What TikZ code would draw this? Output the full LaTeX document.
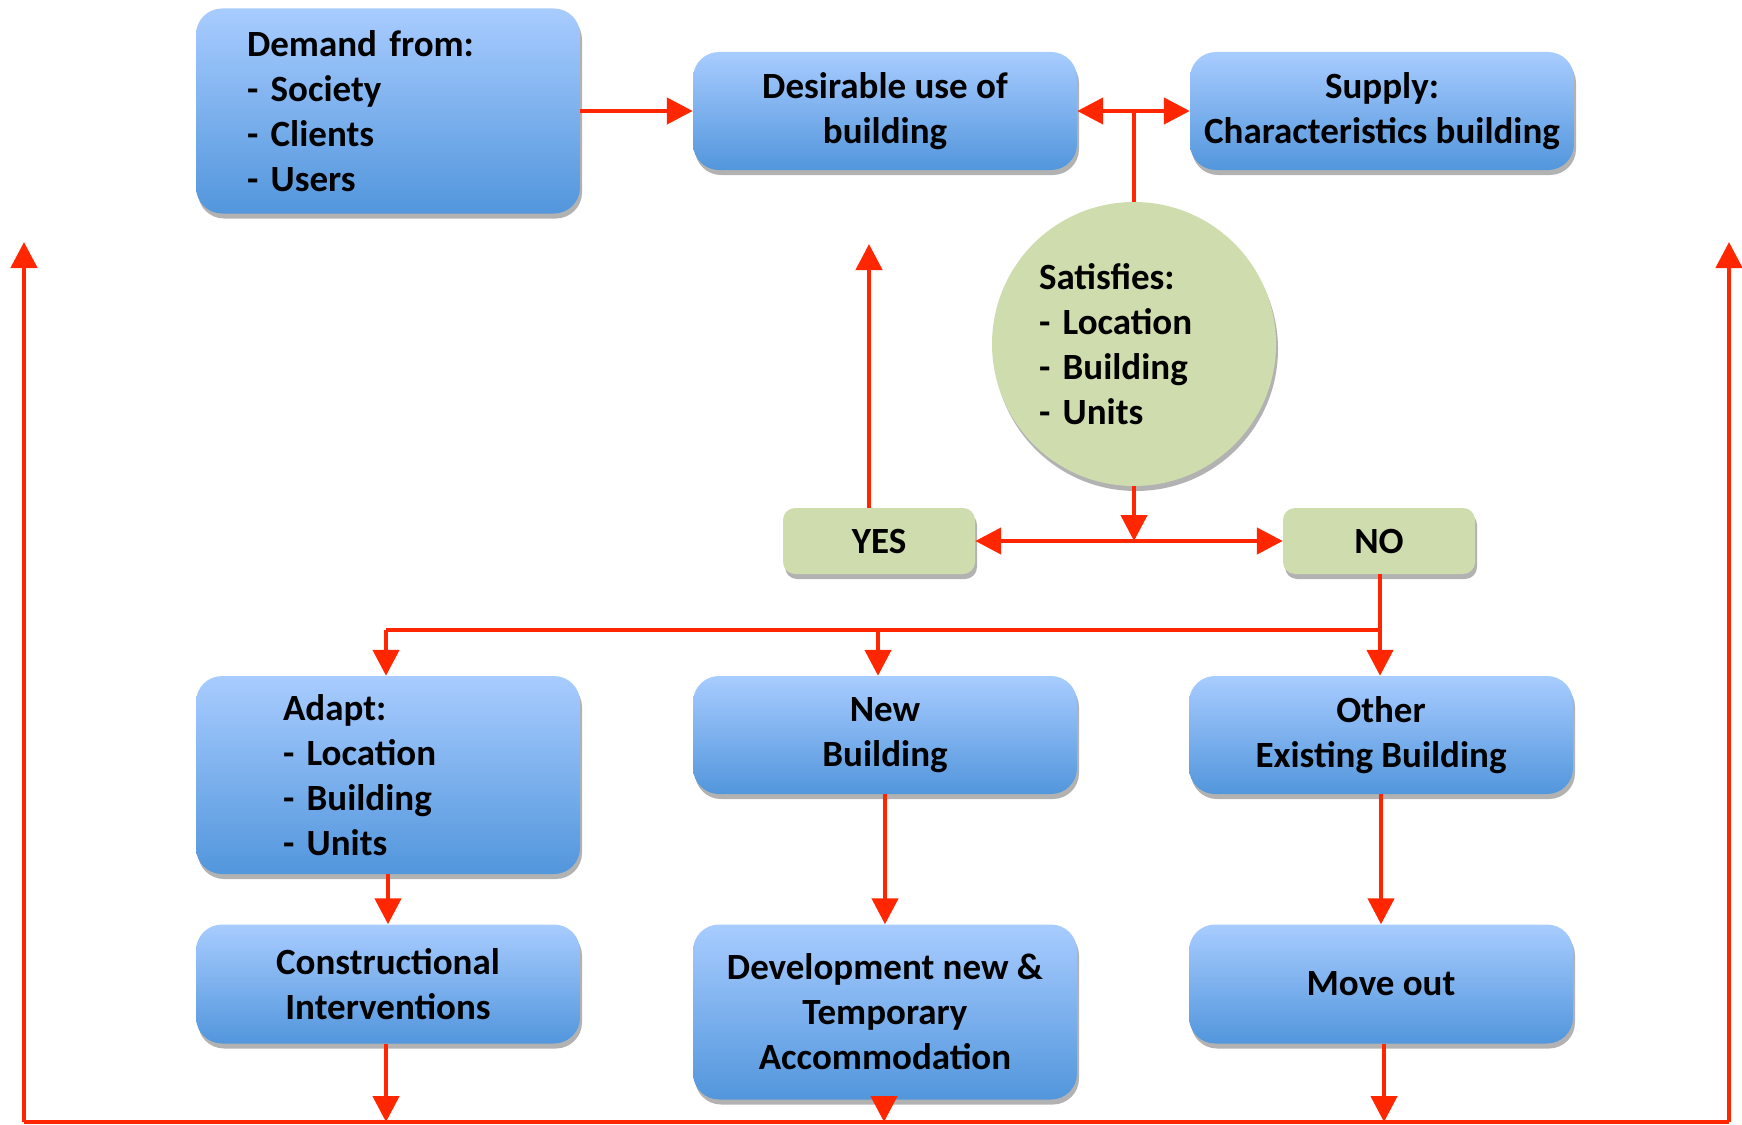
\documentclass[tikz,border=0pt]{standalone}
\usepackage{fontspec}
\setmainfont{Carlito}
\usetikzlibrary{arrows.meta,shadows}
\definecolor{arr}{RGB}{255,38,0}
\definecolor{bluetop}{RGB}{168,204,255}
\definecolor{bluebot}{RGB}{82,150,220}
\definecolor{greenfill}{RGB}{207,220,173}
\tikzset{
  txt/.style={font=\fontsize{37}{45}\selectfont\bfseries},
  shad/.style={drop shadow={shadow xshift=2pt,shadow yshift=-5pt,opacity=0.3,fill=black}},
  bluebox/.style={txt, shad, rounded corners=26pt, top color=bluetop, middle color=bluetop,
    bottom color=bluebot, draw=none, align=center, inner sep=0pt,
    minimum width=384pt},
  greenbox/.style={txt, shad, rounded corners=12pt, fill=greenfill, draw=none,
    inner sep=0pt, minimum width=192pt, minimum height=66pt},
  link/.style={draw=arr, line width=4.5pt},
  tip/.style={link, -{Triangle[width=26pt,length=26pt]}},
  bitip/.style={link, {Triangle[width=26pt,length=26pt]}-{Triangle[width=26pt,length=26pt]}}
}
\begin{document}
\begin{tikzpicture}[x=1pt,y=-1pt]
\useasboundingbox (0,0) rectangle (1742,1124);
% top row
\node[bluebox, minimum height=205pt, text width=282pt, inner xsep=51pt, align=left] (dem) at (388,111)
  {Demand from:\\- Society\\- Clients\\- Users};
\node[bluebox, minimum height=118pt] (des) at (885,111) {Desirable use of\\building};
\node[bluebox, minimum height=118pt] (sup) at (1382,111) {Supply:\\Characteristics building};
% circle
\node[txt, shad, circle, fill=greenfill, minimum size=284pt, inner sep=0pt, text width=190pt, align=left] (sat) at (1134,344)
  {Satisfies:\\- Location\\- Building\\- Units};
% yes / no
\node[greenbox] (yes) at (879,541) {YES};
\node[greenbox] (no) at (1379,541) {NO};
% middle row
\node[bluebox, minimum height=198pt, text width=210pt, inner xsep=87pt, align=left] (adapt) at (388,775)
  {Adapt:\\- Location\\- Building\\- Units};
\node[bluebox, minimum height=118pt] (new) at (885,735) {New\\Building};
\node[bluebox, minimum height=118pt] (other) at (1381,735) {Other\\Existing Building};
% bottom row
\node[bluebox, minimum height=119pt] (constr) at (388,984) {Constructional\\Interventions};
\node[bluebox, minimum height=175pt] (dev) at (885,1012) {Development new \&\\Temporary\\Accommodation};
\node[bluebox, minimum height=119pt] (move) at (1381,984) {Move out};
% coordinates
\coordinate (j1) at (1134,111);
\coordinate (j2) at (1134,541);
\coordinate (yup) at (869,244);
\coordinate (h1) at (386,630);
\coordinate (h2) at (878,630);
\coordinate (h3) at (1380,630);
\coordinate (bl) at (24,1122);
\coordinate (br) at (1729,1122);
\coordinate (tl) at (24,242);
\coordinate (tr) at (1729,242);
\coordinate (b1) at (386,1122);
\coordinate (b2) at (884,1122);
\coordinate (b3) at (1384,1122);
% connectors
\draw[tip] (dem.east |- des) -- (des.west);
\draw[link] (j1 |- sat.north) -- (j1);
\draw[tip] (j1) -- (des.east);
\draw[tip] (j1) -- (sup.west);
\draw[tip] (j2 |- sat.south) -- (j2);
\draw[tip] (j2) -- (yes.east);
\draw[tip] (j2) -- (no.west);
\draw[tip] (yup |- yes.north) -- (yup);
\draw[tip] (no.south -| h3) -- (h3 |- other.north);
\draw[link] (h3) -- (h1);
\draw[tip] (h1) -- (h1 |- adapt.north);
\draw[tip] (h2) -- (h2 |- new.north);
\draw[tip] (adapt.south) -- (constr.north);
\draw[tip] (new.south) -- (dev.north);
\draw[tip] (other.south) -- (move.north);
\draw[tip] (b1 |- constr.south) -- (b1);
\draw[tip] (b2 |- dev.south) -- (b2);
\draw[tip] (b3 |- move.south) -- (b3);
\draw[link] (bl) -- (br);
\draw[tip] (bl) -- (tl);
\draw[tip] (br) -- (tr);
\end{tikzpicture}
\end{document}
